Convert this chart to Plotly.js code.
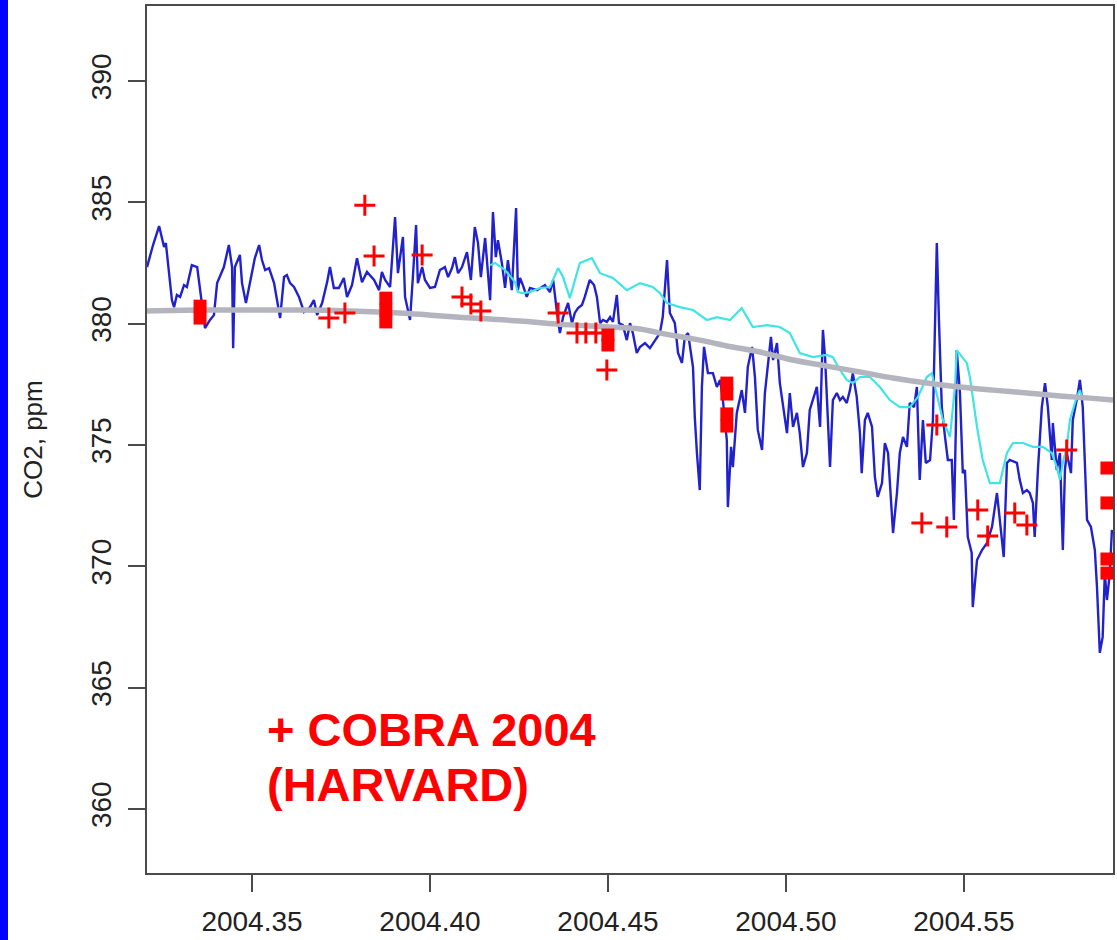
<!DOCTYPE html>
<html>
<head>
<meta charset="utf-8">
<script src="https://cdn.plot.ly/plotly-3.0.1.min.js"></script>
<style>
  html, body { margin: 0; padding: 0; background: #ffffff; }
  #chart { width: 1117px; height: 940px; }
</style>
</head>
<body>
<div id="chart"></div>
<script>
// Tower record (blue), time in decimal years and CO2 in ppm
const towerTime = [2004.3205,2004.3222,2004.3239,2004.3253,2004.3258,2004.3275,2004.3281,2004.3289,2004.3298,2004.3309,
  2004.3317,2004.3331,2004.3346,2004.3354,2004.3368,2004.3382,2004.3393,2004.3402,2004.3410,2004.3421,
  2004.3435,2004.3444,2004.3447,2004.3452,2004.3466,2004.3472,2004.3483,2004.3494,2004.3508,2004.3520,
  2004.3528,2004.3537,2004.3548,2004.3562,2004.3579,2004.3590,2004.3598,2004.3607,2004.3618,2004.3632,
  2004.3646,2004.3663,2004.3674,2004.3683,2004.3697,2004.3711,2004.3719,2004.3730,2004.3744,2004.3758,
  2004.3767,2004.3781,2004.3795,2004.3809,2004.3823,2004.3843,2004.3857,2004.3865,2004.3874,2004.3888,
  2004.3902,2004.3910,2004.3924,2004.3930,2004.3944,2004.3952,2004.3961,2004.3966,2004.3978,2004.3986,
  2004.4000,2004.4014,2004.4028,2004.4042,2004.4051,2004.4062,2004.4070,2004.4079,2004.4090,2004.4104,
  2004.4115,2004.4126,2004.4135,2004.4143,2004.4155,2004.4169,2004.4177,2004.4185,2004.4191,2004.4202,
  2004.4211,2004.4219,2004.4230,2004.4242,2004.4247,2004.4253,2004.4261,2004.4272,2004.4281,2004.4301,
  2004.4315,2004.4323,2004.4337,2004.4346,2004.4357,2004.4365,2004.4374,2004.4388,2004.4399,2004.4407,
  2004.4416,2004.4427,2004.4435,2004.4449,2004.4461,2004.4469,2004.4478,2004.4486,2004.4497,2004.4506,
  2004.4514,2004.4525,2004.4531,2004.4542,2004.4553,2004.4562,2004.4570,2004.4581,2004.4590,2004.4604,
  2004.4618,2004.4632,2004.4646,2004.4654,2004.4666,2004.4674,2004.4688,2004.4697,2004.4708,2004.4716,
  2004.4725,2004.4739,2004.4744,2004.4750,2004.4758,2004.4764,2004.4770,2004.4781,2004.4795,2004.4806,
  2004.4815,2004.4823,2004.4834,2004.4837,2004.4846,2004.4851,2004.4862,2004.4876,2004.4885,2004.4893,
  2004.4905,2004.4913,2004.4921,2004.4933,2004.4941,2004.4947,2004.4958,2004.4964,2004.4975,2004.4983,
  2004.4992,2004.5003,2004.5011,2004.5020,2004.5031,2004.5039,2004.5048,2004.5059,2004.5067,2004.5076,
  2004.5087,2004.5096,2004.5104,2004.5110,2004.5115,2004.5124,2004.5132,2004.5143,2004.5152,2004.5160,
  2004.5171,2004.5180,2004.5188,2004.5199,2004.5208,2004.5213,2004.5222,2004.5230,2004.5242,2004.5250,
  2004.5258,2004.5270,2004.5278,2004.5287,2004.5301,2004.5312,2004.5320,2004.5329,2004.5340,2004.5348,
  2004.5360,2004.5368,2004.5376,2004.5385,2004.5393,2004.5405,2004.5413,2004.5424,2004.5430,2004.5438,
  2004.5447,2004.5455,2004.5466,2004.5472,2004.5478,2004.5480,2004.5489,2004.5497,2004.5503,2004.5511,
  2004.5522,2004.5525,2004.5537,2004.5551,2004.5565,2004.5579,2004.5593,2004.5601,2004.5612,2004.5621,
  2004.5629,2004.5649,2004.5657,2004.5666,2004.5677,2004.5685,2004.5694,2004.5699,2004.5708,2004.5719,
  2004.5728,2004.5736,2004.5747,2004.5750,2004.5761,2004.5770,2004.5778,2004.5784,2004.5789,2004.5801,
  2004.5806,2004.5817,2004.5826,2004.5834,2004.5846,2004.5857,2004.5868,2004.5874,2004.5882,2004.5890,
  2004.5896,2004.5902,2004.5910,2004.5916];
const towerCO2 = [382.33,383.24,384.02,383.16,383.32,380.97,380.68,381.18,381.10,381.59,
  381.51,382.41,382.33,381.38,379.82,380.15,380.35,381.67,381.92,382.33,
  383.24,382.33,378.99,382.33,382.83,381.67,380.85,381.67,382.70,383.24,
  382.62,382.21,382.29,381.67,380.23,381.92,382.00,381.67,381.51,381.10,
  380.48,380.68,380.97,380.35,380.85,381.71,382.33,381.47,381.47,381.88,
  381.10,381.59,382.70,381.71,382.13,381.80,381.38,382.13,381.80,381.51,
  384.39,382.08,383.57,381.10,380.15,381.92,384.06,381.67,382.33,381.80,
  381.47,381.51,382.21,382.33,381.92,382.29,382.74,382.08,382.33,382.95,
  381.80,383.98,383.32,381.92,383.53,380.97,384.60,382.74,383.44,382.50,
  381.47,382.62,381.38,384.76,381.38,381.88,381.59,381.10,381.47,381.38,
  381.51,381.59,381.30,381.80,380.44,379.61,380.27,380.85,380.02,380.44,
  380.64,380.77,381.10,381.80,381.59,381.10,380.02,380.15,380.07,380.27,
  380.07,381.18,380.02,379.94,379.32,380.02,379.61,378.79,379.04,379.20,
  378.99,379.32,379.61,380.27,382.62,380.44,380.02,378.79,378.38,379.45,
  379.61,378.21,376.15,374.67,373.14,377.39,379.04,377.96,377.96,377.39,
  377.68,376.85,375.20,372.44,374.92,374.09,376.32,377.26,376.32,378.21,
  379.04,377.80,375.62,374.79,377.14,377.96,379.45,378.50,379.20,377.55,
  376.56,375.49,377.14,375.74,376.32,375.49,374.09,374.67,376.44,376.85,
  377.39,375.74,379.74,378.62,376.98,374.09,376.85,377.14,376.85,376.98,
  376.73,377.26,377.96,376.98,375.49,373.84,376.03,376.32,375.74,373.68,
  372.86,373.43,375.08,374.67,371.37,373.02,374.67,375.33,374.92,376.73,
  376.56,377.39,373.56,376.03,374.26,374.38,376.03,383.32,380.15,376.56,
  375.33,374.38,374.38,371.91,376.03,378.91,377.14,373.84,373.97,371.21,
  370.55,368.32,370.26,370.67,370.96,371.62,373.02,371.91,370.38,374.26,
  374.38,374.26,373.56,373.02,373.14,373.02,372.61,371.21,373.97,376.56,
  377.55,376.56,374.38,375.90,373.97,374.67,370.67,373.97,374.67,373.84,
  376.03,376.85,377.68,376.56,371.91,371.62,370.67,369.15,366.43,367.09,
  369.72,368.61,369.72,371.50];

// Model curve (cyan)
const modelTime = [2004.4169,2004.4183,2004.4211,2004.4239,2004.4247,2004.4261,2004.4281,2004.4309,2004.4337,2004.4360,
  2004.4374,2004.4393,2004.4421,2004.4455,2004.4478,2004.4514,2004.4553,2004.4590,2004.4626,2004.4646,
  2004.4666,2004.4702,2004.4739,2004.4778,2004.4806,2004.4843,2004.4876,2004.4907,2004.4947,2004.4983,
  2004.5011,2004.5039,2004.5076,2004.5115,2004.5132,2004.5152,2004.5171,2004.5188,2004.5208,2004.5236,
  2004.5264,2004.5292,2004.5320,2004.5348,2004.5371,2004.5396,2004.5410,2004.5424,2004.5441,2004.5461,
  2004.5475,2004.5480,2004.5508,2004.5517,2004.5537,2004.5553,2004.5573,2004.5601,2004.5621,2004.5638,
  2004.5666,2004.5694,2004.5722,2004.5747,2004.5761,2004.5770,2004.5778,2004.5789,2004.5798,2004.5817,
  2004.5826,2004.5834];
const modelCO2 = [382.41,382.50,382.21,381.71,381.30,381.26,381.30,381.47,381.51,382.29,
  381.92,381.05,382.50,382.70,382.08,381.88,381.38,381.67,381.51,381.26,
  380.85,380.68,380.56,380.15,380.27,380.15,380.64,379.86,379.94,379.86,
  379.61,378.79,378.62,378.71,378.62,378.09,377.68,377.55,377.80,377.80,
  377.39,376.85,376.56,376.56,376.98,377.80,377.96,377.14,376.03,375.33,
  377.39,378.91,378.38,377.80,375.74,374.38,373.43,373.43,374.67,375.08,
  375.08,374.92,374.92,374.67,374.09,373.56,374.26,374.92,376.03,376.98,
  377.26,376.85];

// Smooth background trend (grey)
const trendTime = [2004.3205,2004.3354,2004.3503,2004.3635,2004.3775,2004.3916,2004.4003,2004.4121,2004.4253,2004.4357,
  2004.4500,2004.4590,2004.4646,2004.4758,2004.4834,2004.4927,2004.5020,2004.5115,2004.5208,2004.5301,
  2004.5396,2004.5489,2004.5582,2004.5677,2004.5770,2004.5854,2004.5919];
const trendCO2 = [380.52,380.56,380.56,380.56,380.52,380.44,380.35,380.23,380.11,379.98,
  379.86,379.78,379.61,379.32,379.08,378.83,378.50,378.25,378.01,377.76,
  377.55,377.39,377.26,377.14,377.02,376.93,376.85];

// COBRA 2004 aircraft samples (red crosses)
const cobraTime = [2004.3716,2004.3761,2004.3817,2004.3843,2004.3978,2004.4090,2004.4115,2004.4143,2004.4360,2004.4413,
  2004.4438,2004.4466,2004.4497,2004.5382,2004.5424,2004.5452,2004.5539,2004.5567,2004.5643,2004.5677,2004.5789];
const cobraCO2 = [380.23,380.44,384.88,382.79,382.83,381.10,380.81,380.52,380.44,379.61,
  379.61,379.61,378.09,371.78,375.82,371.62,372.32,371.25,372.20,371.70,374.79];

// Flask samples (red squares)
const flaskTime = [2004.3354,2004.3354,2004.3876,2004.3876,2004.3876,2004.4500,2004.4500,
  2004.4834,2004.4834,2004.4834,2004.4834,2004.5902,2004.5902,2004.5902,2004.5902];
const flaskCO2 = [380.72,380.23,381.05,380.56,380.07,379.53,379.12,
  377.55,377.10,376.28,375.78,374.05,372.61,370.30,369.72];

// Axis ticks
const xTickVals = [2004.35, 2004.40, 2004.45, 2004.50, 2004.55];
const xTickText = ['2004.35', '2004.40', '2004.45', '2004.50', '2004.55'];
const yTickVals = [360, 365, 370, 375, 380, 385, 390];
const yTickText = ['360', '365', '370', '375', '380', '385', '390'];

const FONT = 'Liberation Sans, Arial, Helvetica, sans-serif';
const RED = '#ff0000';

const traces = [
  { x: towerTime, y: towerCO2, type: 'scatter', mode: 'lines',
    line: { color: '#2222cc', width: 2.4 }, hoverinfo: 'skip' },
  { x: modelTime, y: modelCO2, type: 'scatter', mode: 'lines',
    line: { color: '#40e4e4', width: 2.2 }, hoverinfo: 'skip' },
  { x: trendTime, y: trendCO2, type: 'scatter', mode: 'lines',
    line: { color: '#b4b4be', width: 5.5, shape: 'spline' }, hoverinfo: 'skip' },
  { x: cobraTime, y: cobraCO2, type: 'scatter', mode: 'markers',
    marker: { symbol: 'cross-thin', size: 15, color: RED, line: { color: RED, width: 3 } },
    hoverinfo: 'skip' },
  { x: flaskTime, y: flaskCO2, type: 'scatter', mode: 'markers',
    marker: { symbol: 'square', size: 13, color: RED, line: { width: 0 } },
    hoverinfo: 'skip' }
];

const axisCommon = {
  showline: true, linecolor: '#4a4a4a', linewidth: 2, mirror: true,
  ticks: 'outside', ticklen: 17, tickwidth: 2, tickcolor: '#4a4a4a',
  showgrid: false, zeroline: false, fixedrange: true,
  tickfont: { family: FONT, size: 28, color: '#222222' }
};

const layout = {
  width: 1117, height: 940,
  margin: { l: 147, r: 4, t: 6, b: 67, pad: 0 },
  paper_bgcolor: '#ffffff', plot_bgcolor: '#ffffff',
  showlegend: false,
  xaxis: Object.assign({}, axisCommon, {
    range: [2004.3205, 2004.5919],
    tickmode: 'array', tickvals: xTickVals, ticktext: xTickText,
    ticklabelstandoff: 5
  }),
  yaxis: Object.assign({}, axisCommon, {
    range: [357.36, 393.09],
    tickmode: 'array', tickvals: yTickVals, ticktext: yTickText,
    tickangle: -90, ticklabelstandoff: 6,
    title: { text: 'CO2, ppm', font: { family: FONT, size: 26, color: '#222222' }, standoff: 36 }
  }),
  annotations: [
    { xref: 'paper', yref: 'paper', x: 0.1222, y: 0.1655, xanchor: 'left', yanchor: 'middle',
      text: '<b>+ COBRA 2004</b>', showarrow: false,
      font: { family: FONT, size: 47, color: RED } },
    { xref: 'paper', yref: 'paper', x: 0.1222, y: 0.1020, xanchor: 'left', yanchor: 'middle',
      text: '<b>(HARVARD)</b>', showarrow: false,
      font: { family: FONT, size: 47, color: RED } }
  ],
  shapes: [
    // blue strip along the left edge of the page
    { type: 'rect', xref: 'paper', yref: 'paper', x0: -0.1522, x1: -0.1439, y0: -0.08, y1: 1.01,
      fillcolor: '#0000ff', line: { width: 0 }, layer: 'above' }
  ]
};

Plotly.newPlot('chart', traces, layout, { staticPlot: true, displayModeBar: false });
</script>
</body>
</html>
